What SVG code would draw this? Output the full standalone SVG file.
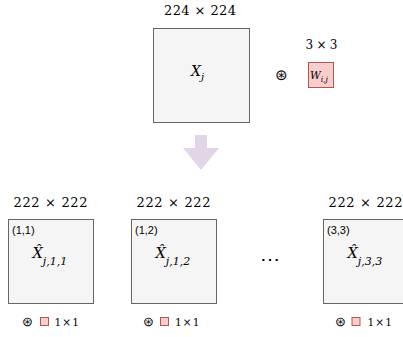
<svg xmlns="http://www.w3.org/2000/svg" width="403" height="337" viewBox="0 0 403 337">
<defs>
<style>
.box{fill:#f5f5f5;stroke:#666666;stroke-width:1}
.kern{fill:#f8cecc;stroke:#b85450;stroke-width:1}
.s{font-family:'Liberation Sans',Arial,sans-serif;fill:#000}
.op{font-family:'DejaVu Sans',sans-serif;font-weight:200;fill:#000}
.t{font-family:'DejaVu Serif',serif;fill:#000}
.m{font-family:'DejaVu Serif',serif;font-style:italic;fill:#000}
</style>
</defs>
<rect width="403" height="337" fill="#ffffff"/>
<g id="input">
<text class="t" x="200" y="14.5" font-size="13" text-anchor="middle" textLength="72" lengthAdjust="spacing">224 × 224</text>
<rect class="box" x="153.5" y="28.5" width="96" height="94"/>
<text class="m" x="191" y="76" font-size="14">X<tspan font-size="10" dy="4">j</tspan></text>
</g>
<g id="op-top">
<text class="op" x="281" y="80" font-size="15" text-anchor="middle">⊛</text>
</g>
<g id="kernel">
<text class="t" x="321.5" y="49" font-size="12" text-anchor="middle" textLength="32" lengthAdjust="spacing">3 × 3</text>
<rect class="kern" x="308.5" y="62.5" width="25" height="25"/>
<text class="m" x="310" y="79" font-size="10.5">W<tspan font-size="7.5" dy="2.5">i,j</tspan></text>
</g>
<g id="connectors">
<polygon points="195,135 207,135 207,148 219,148 201,170 183,148 195,148" fill="#e1d5e7"/>
</g>
<g id="out11">
<text class="t" x="50.5" y="206.5" font-size="13" text-anchor="middle" textLength="74" lengthAdjust="spacing">222 × 222</text>
<rect class="box" x="8.5" y="219.5" width="85" height="84"/>
<text class="s" x="12" y="234" font-size="11">(1,1)</text>
<text class="m" x="32.5" y="258" font-size="14.5">X̂<tspan font-size="11" dy="7">j,1,1</tspan></text>
<text class="op" x="27.3" y="325.5" font-size="13" text-anchor="middle">⊛</text>
<rect class="kern" x="40.5" y="317.5" width="8" height="8"/>
<text class="t" x="54.5" y="325.5" font-size="10.5" textLength="24.5" lengthAdjust="spacing">1 × 1</text>
</g>
<g id="out12">
<text class="t" x="173.5" y="206.5" font-size="13" text-anchor="middle" textLength="74" lengthAdjust="spacing">222 × 222</text>
<rect class="box" x="131.5" y="219.5" width="85" height="84"/>
<text class="s" x="135" y="234" font-size="11">(1,2)</text>
<text class="m" x="155.5" y="258" font-size="14.5">X̂<tspan font-size="11" dy="7">j,1,2</tspan></text>
<text class="op" x="148" y="325.5" font-size="13" text-anchor="middle">⊛</text>
<rect class="kern" x="160.5" y="317.5" width="8" height="8"/>
<text class="t" x="175" y="325.5" font-size="10.5" textLength="24.5" lengthAdjust="spacing">1 × 1</text>
</g>
<g id="dots">
<text class="t" x="270" y="266" font-size="20" text-anchor="middle" textLength="26" lengthAdjust="spacing">⋯</text>
</g>
<g id="out33">
<text class="t" x="365.5" y="206.5" font-size="13" text-anchor="middle" textLength="74" lengthAdjust="spacing">222 × 222</text>
<rect class="box" x="323.5" y="219.5" width="85" height="84"/>
<text class="s" x="327" y="234" font-size="11">(3,3)</text>
<text class="m" x="347.5" y="258" font-size="14.5">X̂<tspan font-size="11" dy="7">j,3,3</tspan></text>
<text class="op" x="340.3" y="325.5" font-size="13" text-anchor="middle">⊛</text>
<rect class="kern" x="352" y="317.5" width="8" height="8"/>
<text class="t" x="367.5" y="325.5" font-size="10.5" textLength="24.5" lengthAdjust="spacing">1 × 1</text>
</g>
</svg>
